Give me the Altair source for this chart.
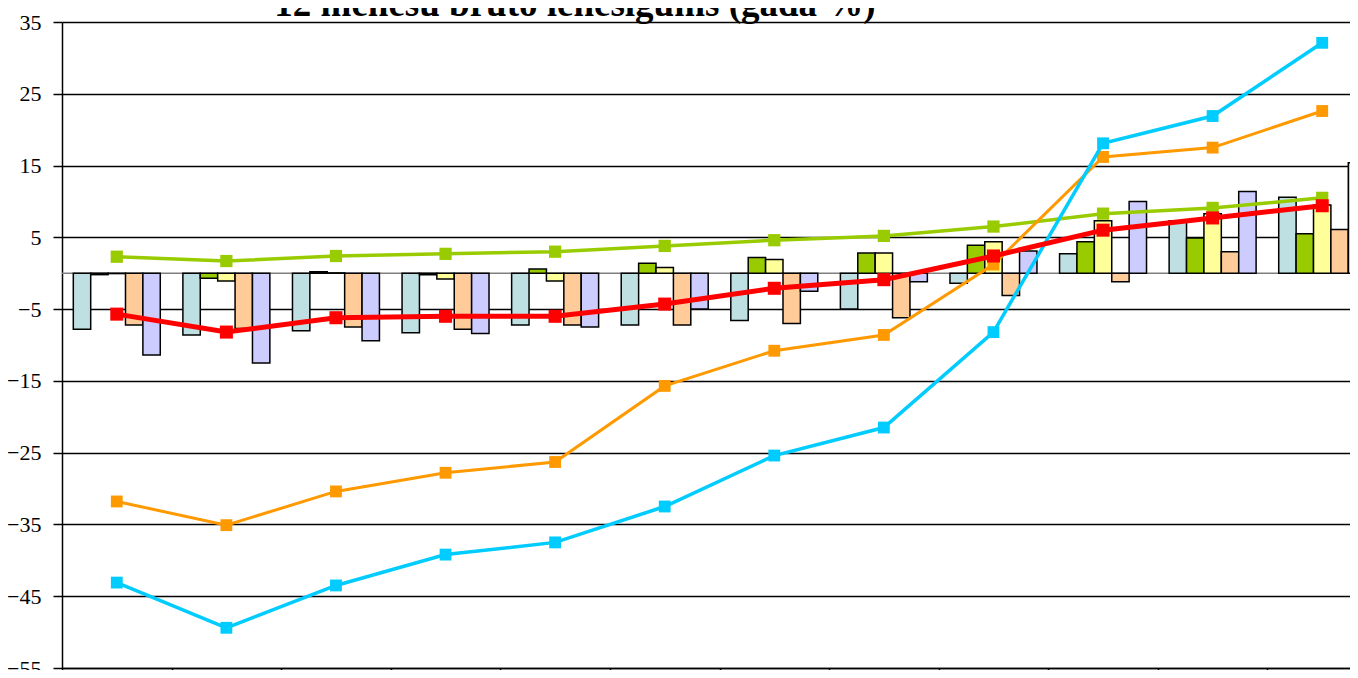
import altair as alt
import pandas as pd

title_text = "12 mēnešu bruto ienesīgums (gadā %)"

categories = ["1", "2", "3", "4", "5", "6", "7", "8", "9", "10", "11", "12"]

bar_series = ["S1", "S2", "S3", "S4", "S5"]
bar_colors = ["#BEE0E2", "#99CC00", "#FFFF99", "#FFCC99", "#CCCCFF"]
bar_s1 = [-7.8, -8.6, -8.0, -8.3, -7.2, -7.2, -6.6, -5.0, -1.4, 2.7, 7.3, 10.6]
bar_s2 = [-0.2, -0.7, 0.2, -0.2, 0.6, 1.4, 2.2, 2.8, 3.9, 4.4, 4.9, 5.5]
bar_s3 = [-0.05, -1.1, 0.05, -0.8, -1.1, 0.8, 1.9, 2.8, 4.4, 7.3, 8.3, 9.5]
bar_s4 = [-7.2, -7.7, -7.5, -7.8, -7.2, -7.2, -7.0, -6.2, -3.1, -1.2, 3.0, 6.1]
bar_s5 = [-11.4, -12.5, -9.4, -8.4, -7.5, -5.0, -2.5, -1.2, 3.1, 10.0, 11.4, 15.4]

line_green = [2.3, 1.7, 2.4, 2.7, 3.0, 3.8, 4.6, 5.2, 6.5, 8.3, 9.1, 10.5]
line_orange = [-31.8, -35.1, -30.4, -27.8, -26.3, -15.7, -10.8, -8.6, 1.2, 16.2, 17.5, 22.6]
line_cyan = [-43.1, -49.4, -43.5, -39.2, -37.5, -32.5, -25.4, -21.5, -8.2, 18.1, 21.9, 32.1]
line_red = [-5.7, -8.2, -6.2, -6.0, -6.0, -4.3, -2.1, -0.9, 2.4, 6.0, 7.7, 9.4]

y_ticks = [-55, -45, -35, -25, -15, -5, 5, 15, 25, 35]

bar_values = [bar_s1, bar_s2, bar_s3, bar_s4, bar_s5]
bar_rows = []
for s, vals in zip(bar_series, bar_values):
    for c, v in zip(categories, vals):
        bar_rows.append({"cat": c, "series": s, "value": v})
bar_df = pd.DataFrame(bar_rows)

x_enc = alt.X(
    "cat:N",
    sort=categories,
    scale=alt.Scale(range=[0, 1315], paddingInner=0, paddingOuter=0),
    axis=alt.Axis(
        labels=False, title=None, tickBand="extent", tickSize=8,
        tickColor="black", tickWidth=1.5, domainColor="black",
        domainWidth=1.5, grid=False,
    ),
)
y_scale = alt.Scale(domain=[-55, 35], nice=False, zero=False)
y_axis = alt.Axis(
    values=y_ticks, title=None, grid=True, gridColor="black", gridWidth=1.5,
    tickSize=9, tickColor="black", tickWidth=1.5, domainColor="black",
    domainWidth=1.5, labelFont="Liberation Serif", labelFontSize=22,
    labelColor="black", labelPadding=12,
)

zero_rule = alt.Chart(pd.DataFrame({"z": [0]})).mark_rule(
    color="#808080", strokeWidth=1.5
).encode(y=alt.Y("z:Q", scale=y_scale, axis=y_axis))

bars = alt.Chart(bar_df).mark_bar(stroke="black", strokeWidth=1.5, clip=True).encode(
    x=x_enc,
    xOffset=alt.XOffset("series:N", sort=bar_series,
                        scale=alt.Scale(paddingInner=0, paddingOuter=0.65)),
    y=alt.Y("value:Q", scale=y_scale, axis=y_axis),
    y2=alt.datum(0),
    fill=alt.Fill("series:N", scale=alt.Scale(domain=bar_series, range=bar_colors), legend=None),
)

def line_layer(vals, color, width, size):
    df = pd.DataFrame({"cat": categories, "value": vals})
    return alt.Chart(df).mark_line(
        color=color, strokeWidth=width, clip=True,
        point=alt.OverlayMarkDef(shape="square", size=size, filled=True, color=color, opacity=1),
    ).encode(
        x=x_enc,
        y=alt.Y("value:Q", scale=y_scale, axis=y_axis),
    )

l_green = line_layer(line_green, "#99CC00", 3.5, 150)
l_orange = line_layer(line_orange, "#FF9900", 3, 140)
l_cyan = line_layer(line_cyan, "#00CCFF", 3.5, 140)
l_red = line_layer(line_red, "#FF0000", 5, 170)

title_layer = alt.Chart(pd.DataFrame({"t": [title_text]})).mark_text(
    font="Liberation Serif", fontSize=37, fontWeight="bold", color="black",
    align="center", baseline="alphabetic",
).encode(text="t:N", x=alt.value(513), y=alt.value(-6))

chart = alt.layer(
    zero_rule, bars, l_green, l_orange, l_cyan, l_red, title_layer
).properties(
    width=1296, height=646,
    background="white",
    autosize=alt.AutoSizeParams(type="none"),
    padding={"left": 54, "top": 14, "right": -8, "bottom": 2},
).configure_view(stroke=None).configure_axis(
    labelFont="Liberation Serif", labelFontSize=22, labelColor="black"
)

chart.save("out.html", embed_options={"renderer": "svg", "actions": False})
